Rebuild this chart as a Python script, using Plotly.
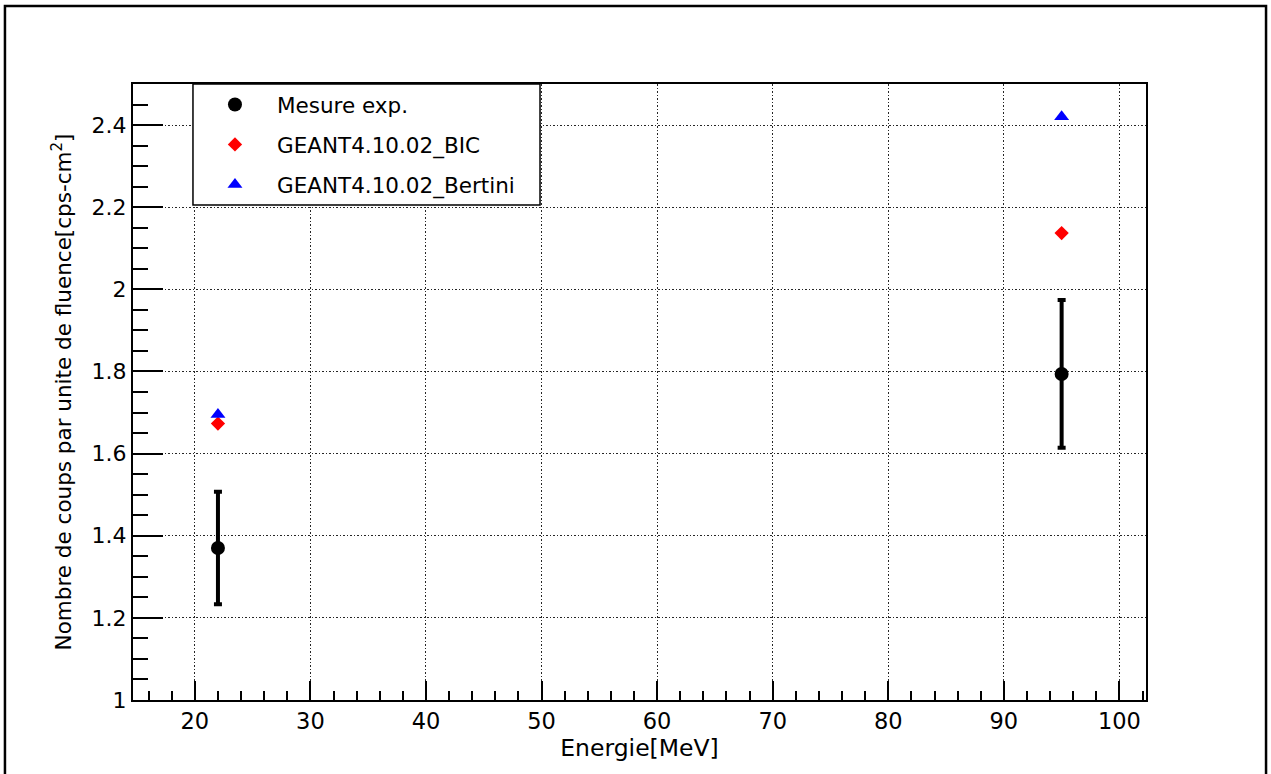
import plotly.graph_objects as go

# Energies (MeV) and measured / simulated counts per unit fluence
energie = [22, 95]
mesure = [1.37, 1.794]
mesure_err = [0.137, 0.18]
bic = [1.673, 2.137]
bertini = [1.695, 2.42]

FONT = "DejaVu Sans"

fig = go.Figure()

fig.add_trace(go.Scatter(
    x=energie, y=mesure, mode="markers", name="Mesure exp.",
    marker=dict(symbol="circle", size=14, color="black"),
    error_y=dict(type="data", array=mesure_err, visible=True,
                 color="black", thickness=4, width=4),
    legendgroup="a",
))
fig.add_trace(go.Scatter(
    x=energie, y=bic, mode="markers", name="GEANT4.10.02_BIC",
    marker=dict(symbol="diamond", size=11, color="#ff0000"),
    legendgroup="b",
))
fig.add_trace(go.Scatter(
    x=energie, y=bertini, mode="markers", name="GEANT4.10.02_Bertini",
    marker=dict(symbol="triangle-up", size=13, color="#0000ff"),
    legendgroup="c",
))

grid_dash = "1.5px,2px"
grid_color = "rgba(0,0,0,0.85)"

fig.update_xaxes(
    range=[14.65, 102.3],
    tick0=0, dtick=10,
    ticks="inside", ticklen=19, tickwidth=2, tickcolor="black",
    minor=dict(ticks="inside", ticklen=9, tickwidth=2, tickcolor="black",
               dtick=2, tick0=0, showgrid=False),
    showgrid=True, gridcolor=grid_color, gridwidth=1.3, griddash=grid_dash,
    showline=True, linecolor="black", linewidth=2, mirror=True,
    zeroline=False,
    tickfont=dict(family=FONT, size=22.5, color="black"),
    title=dict(text="Energie[MeV]", font=dict(family=FONT, size=23.5, color="black"),
               standoff=2),
)
fig.update_yaxes(
    range=[1, 2.5],
    tick0=1, dtick=0.2,
    ticks="inside", ticklen=30, tickwidth=2, tickcolor="black",
    minor=dict(ticks="inside", ticklen=15, tickwidth=2, tickcolor="black",
               dtick=0.05, tick0=1, showgrid=False),
    showgrid=True, gridcolor=grid_color, gridwidth=1.3, griddash=grid_dash,
    showline=True, linecolor="black", linewidth=2, mirror=True,
    zeroline=False,
    tickfont=dict(family=FONT, size=22, color="black"),
    title=dict(text="Nombre de coups par unite de fluence[cps-cm<sup>2</sup>]",
               font=dict(family=FONT, size=21.5, color="black"), standoff=14),
)

fig.update_layout(
    width=1271, height=774,
    margin=dict(l=133, r=125, t=84, b=74, autoexpand=False),
    paper_bgcolor="white", plot_bgcolor="white",
    showlegend=True,
    legend=dict(
        x=0.0592, y=1, xanchor="left", yanchor="top",
        bgcolor="rgba(0,0,0,0)", borderwidth=0,
        font=dict(family=FONT, size=21.5, color="black"),
        traceorder="grouped", tracegroupgap=9, itemwidth=74,
    ),
    shapes=[
        # canvas border
        dict(type="rect", xref="paper", yref="paper",
             x0=-0.1264, x1=1.1185, y0=-0.2, y1=1.1266,
             line=dict(color="black", width=2.5), fillcolor="rgba(0,0,0,0)",
             layer="above"),
        # legend box
        dict(type="rect", xref="paper", yref="paper",
             x0=0.0592, x1=0.4018, y0=0.8036, y1=1.0,
             line=dict(color="black", width=1.5), fillcolor="white",
             layer="above"),
    ],
)

fig.write_html("out.html")
